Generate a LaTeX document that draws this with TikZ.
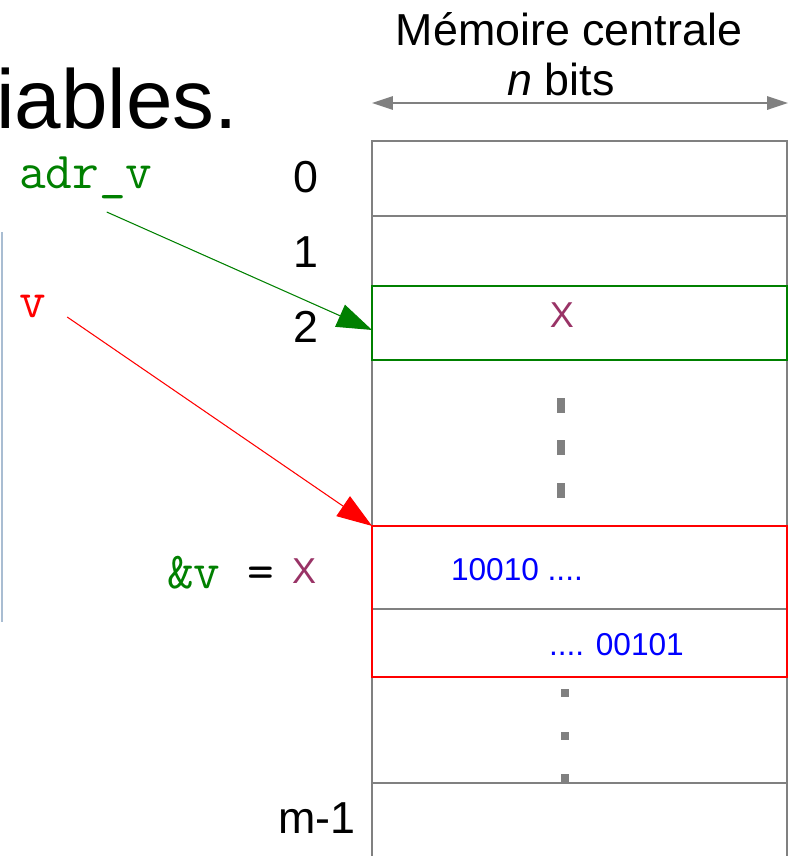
\documentclass[tikz,border=0pt]{standalone}
\usepackage{fontspec}
\setmainfont{Liberation Sans}
\usetikzlibrary{arrows.meta,positioning}
\definecolor{vgreen}{HTML}{008000}
\definecolor{xpurple}{HTML}{993366}
\definecolor{boxblue}{HTML}{A9BDD2}

\begin{document}
\begin{tikzpicture}[x=0.02cm, y=-0.02cm,
  every node/.style = {inner sep=0pt, outer sep=0pt},
  cell/.style = {draw=gray, line width=0.8pt, minimum width=8.3cm},
  label/.style = {font=\fontsize{25.5}{30}\selectfont, anchor=base},
  code/.style = {font=\ttfamily\fontsize{29.5}{34}\selectfont, anchor=base west},
  xval/.style = {font=\fontsize{20.5}{24}\selectfont, text=xpurple},
  bits/.style = {font=\fontsize{18}{22}\selectfont, text=blue, anchor=base west},
  ptr/.style = {-{Triangle[length=0.7cm,width=0.48cm]}, line width=0.6pt}]
  \useasboundingbox (0,0) rectangle (788,856);

  % memoire
  \node[cell, anchor=north west, minimum height=1.5cm] (r0) at (372,141) {};
  \node[cell, below=0pt of r0, minimum height=1.4cm] (r1) {};
  \node[cell, below=0pt of r1, minimum height=1.48cm] (r2) {};
  \node[cell, below=0pt of r2, minimum height=3.32cm] (gap1) {};
  \node[cell, below=0pt of gap1, minimum height=1.66cm] (r3) {};
  \node[cell, below=0pt of r3, minimum height=1.36cm] (r4) {};
  \node[cell, below=0pt of r4, minimum height=2.12cm] (gap2) {};
  \node[cell, below=0pt of gap2, minimum height=2cm] (rlast) {};
  \draw[vgreen, line width=0.8pt] (r2.north west) rectangle (r2.south east);
  \draw[red, line width=0.8pt] (r3.north west) rectangle (r4.south east);

  \foreach \y in {398,440,483} \fill[gray] (557,\y) rectangle +(8,15);
  \foreach \y in {689,732,774} \fill[gray] (561,\y) rectangle +(8,8);

  \node[label] (title) at (569,45) {Mémoire centrale};
  \node[label] (width) at (561,95) {\textit{n} bits};
  \coordinate (wl) at (372,103);
  \coordinate (wr) at (788,103);
  \draw[{Triangle[length=0.42cm,width=0.27cm]}-{Triangle[length=0.42cm,width=0.27cm]}, gray, line width=1pt] (wl) -- (wr);

  \node[font=\fontsize{47.6}{56}\selectfont, anchor=base west] (heading) at (-4,128) {iables.};
  \draw[boxblue, line width=1.5pt] (2,232) -- (2,622);

  \node[label] (n0) at (306,192) {0};
  \node[label] (n1) at (306,267) {1};
  \node[label] (n2) at (306,342) {2};
  \node[label] (nlast) at (317,833) {m-1};

  \node[xval, anchor=base] (x2) at (562,327) {X};
  \node[bits] (hi) at (451,580) {10010 ....};
  \node[bits] (lo) at (549,655) {.... 00101};

  \node[code, text=vgreen] (adrv) at (19,188) {adr\_v};
  \node[code, text=red] (v) at (19,317) {v};
  \node[code] (addr) at (167,588) {\textcolor{vgreen}{\&v} =};
  \node[xval, anchor=base west] (xaddr) at (292,583) {X};

  \draw[ptr, vgreen] ([shift={(21,24)}]adrv.base) -- ([yshift=-0.14cm]r2.west);
  \draw[ptr, red] ([xshift=0.43cm]v.base east) -- (r3.north west);
\end{tikzpicture}
\end{document}
